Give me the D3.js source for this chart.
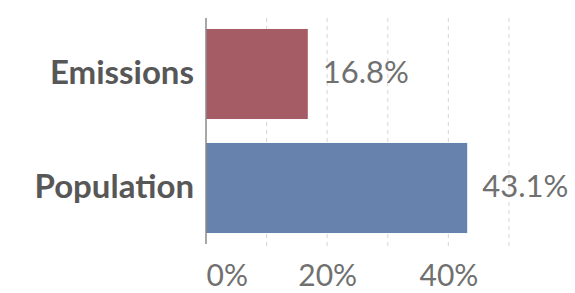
<!doctype html>
<html lang="en">
<head>
  <meta charset="utf-8">
  <title>Emissions vs population</title>
  <script src="https://cdn.jsdelivr.net/npm/d3@7"></script>
  <style>
    body { margin: 0; background: #fff; }
    text { font-family: Lato, "Open Sans", sans-serif; }
  </style>
</head>
<body>
  <div id="chart"></div>
  <script>
    // data
    const categories = ["Emissions", "Population"];
    const values = [16.8, 43.1];
    const colors = ["#a65c64", "#6882ae"];
    const tickValues = [0, 20, 40];
    const gridValues = [0, 10, 20, 30, 40, 50];

    const w = 575;
    const h = 293;
    const x0 = 206;
    const pxPer10 = 60.6;

    const xScale = d3.scaleLinear()
      .domain([0, 50])
      .range([x0, x0 + pxPer10 * 5]);

    const yScale = d3.scaleBand()
      .domain(categories)
      .range([17, 245])
      .paddingInner(0.21)
      .paddingOuter(0.105);

    const svg = d3.select("#chart")
      .append("svg")
      .attr("width", w)
      .attr("height", h);

    // dashed grid
    svg.append("g")
      .selectAll("line")
      .data(gridValues.slice(1))
      .join("line")
      .attr("x1", d => xScale(d))
      .attr("x2", d => xScale(d))
      .attr("y1", 18)
      .attr("y2", 248)
      .style("stroke", "#dcdcdc")
      .style("stroke-width", 1.2)
      .style("stroke-dasharray", "4,4");

    // bars
    svg.append("g")
      .selectAll("rect")
      .data(values)
      .join("rect")
      .attr("x", xScale(0))
      .attr("y", (d, i) => yScale(categories[i]))
      .attr("width", d => xScale(d) - xScale(0))
      .attr("height", yScale.bandwidth())
      .style("fill", (d, i) => colors[i]);

    // value labels
    svg.append("g")
      .selectAll("text")
      .data(values)
      .join("text")
      .attr("x", d => xScale(d) + 15)
      .attr("y", (d, i) => yScale(categories[i]) + yScale.bandwidth() / 2)
      .attr("dy", "0.3em")
      .style("font-size", "31px")
      .style("fill", "#707070")
      .text(d => d.toFixed(1) + "%");

    // category labels
    svg.append("g")
      .selectAll("text")
      .data(categories)
      .join("text")
      .attr("x", x0 - 12)
      .attr("y", d => yScale(d) + yScale.bandwidth() / 2)
      .attr("dy", "0.3em")
      .style("text-anchor", "end")
      .style("font-size", "33px")
      .style("font-weight", "bold")
      .style("fill", "#575757")
      .text(d => d);

    // y axis line
    svg.append("line")
      .attr("x1", x0)
      .attr("x2", x0)
      .attr("y1", 18)
      .attr("y2", 244)
      .style("stroke", "#8a8a8a")
      .style("stroke-width", 1.5);

    // x axis tick labels
    const xAxis = d3.axisBottom(xScale)
      .tickValues(tickValues)
      .tickSize(0)
      .tickPadding(0)
      .tickFormat(d => d + "%");

    const gx = svg.append("g")
      .attr("transform", "translate(0, 286)")
      .call(xAxis);
    gx.select(".domain").remove();
    gx.selectAll("text")
      .attr("dy", null)
      .attr("y", 0)
      .style("font-size", "30px")
      .style("font-family", "Lato, sans-serif")
      .style("fill", "#707070")
      .style("text-anchor", (d, i) => i === 0 ? "start" : "middle");
  </script>
</body>
</html>
